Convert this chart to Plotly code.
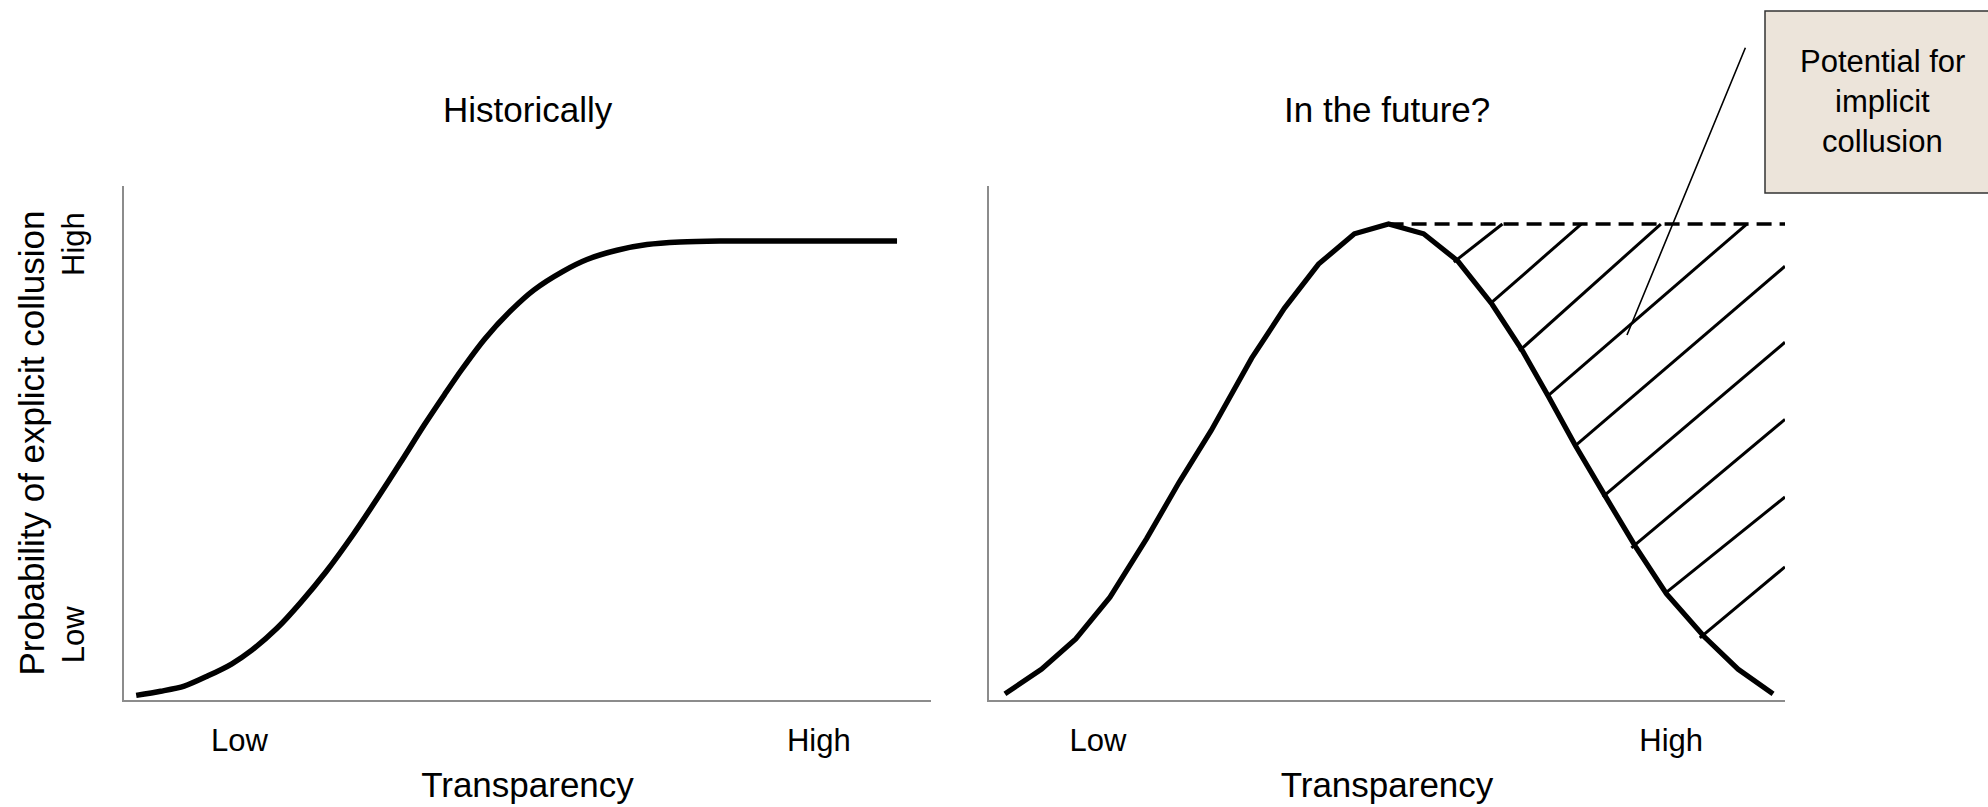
import plotly.graph_objects as go

FONT = "Liberation Sans, Arial, sans-serif"
W, H = 1988, 807

# Historically: probability of explicit collusion rises with transparency (S-curve)
hist_x = [0.151, 0.454, 0.746, 1.040, 1.332, 1.584, 1.898, 2.191, 2.506, 2.840,
          3.134, 3.426, 3.720, 3.971, 4.181, 4.473, 4.809, 5.082, 5.440, 5.737,
          6.109, 6.481, 6.890, 7.385, 8.216, 9.033, 9.579]
hist_y = [0.009, 0.017, 0.027, 0.047, 0.070, 0.097, 0.140, 0.190, 0.250, 0.322,
          0.391, 0.462, 0.535, 0.594, 0.642, 0.703, 0.760, 0.798, 0.834, 0.857,
          0.875, 0.886, 0.891, 0.893, 0.893, 0.893, 0.893]

# In the future: bell-shaped relationship
future_x = [0.20, 0.66, 1.09, 1.52, 1.98, 2.39, 2.79, 3.30, 3.71, 4.14, 4.59, 5.02,
            5.46, 5.89, 6.32, 6.70, 7.03, 7.37, 7.74, 8.12, 8.51, 8.98, 9.41, 9.85]
future_y = [0.012, 0.060, 0.119, 0.200, 0.314, 0.424, 0.524, 0.665, 0.762, 0.848,
            0.907, 0.926, 0.907, 0.854, 0.770, 0.680, 0.590, 0.494, 0.397, 0.299,
            0.207, 0.124, 0.060, 0.012]

# Hatching between the curve and the former ceiling
hatch_x0 = [5.84, 6.29, 6.66, 7.01, 7.36, 7.71, 8.07, 8.49, 8.93]
hatch_y0 = [0.852, 0.770, 0.679, 0.590, 0.494, 0.395, 0.296, 0.207, 0.121]
hatch_x1 = [6.45, 7.44, 8.44, 9.52, 10.0, 10.0, 10.0, 10.0, 10.0]
hatch_y1 = [0.926, 0.926, 0.926, 0.926, 0.844, 0.696, 0.546, 0.395, 0.259]

ceiling_end_x = 10.0

x_tick_vals_left = [1.43, 8.61]
x_tick_vals_right = [1.37, 8.57]
x_tick_text = ["Low", "High"]
y_tick_vals = [0.118, 0.878]
y_tick_text = ["Low", "High"]

panel_titles = ["Historically", "In the future?"]
callout_lines = ["Potential for", "implicit", "collusion"]

# leader line from the callout into the hatched area (data coords of right panel)
leader_tail = (9.51, 1.272)
leader_head = (8.015, 0.710)


def px_x(p):
    return p / W


def px_y(p):
    return 1 - p / H


fig = go.Figure()

fig.add_trace(go.Scatter(x=hist_x, y=hist_y, mode="lines",
                         line=dict(color="black", width=5.5, shape="spline", smoothing=0.8),
                         xaxis="x", yaxis="y", hoverinfo="skip"))

fig.add_trace(go.Scatter(x=future_x, y=future_y, mode="lines",
                         line=dict(color="black", width=5.2), xaxis="x2", yaxis="y2",
                         hoverinfo="skip"))

peak = max(future_y)
peak_x = future_x[future_y.index(peak)]
fig.add_trace(go.Scatter(x=[peak_x, ceiling_end_x], y=[peak, peak], mode="lines",
                         line=dict(color="black", width=3.5, dash="15px,8px"),
                         xaxis="x2", yaxis="y2", hoverinfo="skip"))

hx, hy = [], []
for a, b, c, d in zip(hatch_x0, hatch_y0, hatch_x1, hatch_y1):
    hx += [a, c, None]
    hy += [b, d, None]
fig.add_trace(go.Scatter(x=hx, y=hy, mode="lines", line=dict(color="black", width=3),
                         xaxis="x2", yaxis="y2", hoverinfo="skip"))

axis_common = dict(range=[0, 10], showline=True, linecolor="#8c8c8c", linewidth=2,
                   showgrid=False, zeroline=False, ticks="outside", ticklen=12,
                   tickcolor="rgba(0,0,0,0)", tickfont=dict(size=31, color="black"),
                   fixedrange=True)
y_common = dict(range=[0, 1], showline=True, linecolor="#8c8c8c", linewidth=2,
                showgrid=False, zeroline=False, fixedrange=True,
                domain=[px_y(700), px_y(186)])

fig.update_layout(
    width=W, height=H,
    margin=dict(l=0, r=0, t=0, b=0),
    paper_bgcolor="white", plot_bgcolor="white",
    showlegend=False,
    font=dict(family=FONT, color="black"),
    xaxis=dict(axis_common, domain=[px_x(124), px_x(931)], tickvals=x_tick_vals_left,
               ticktext=x_tick_text, anchor="y",
               title=dict(text="Transparency", font=dict(size=35), standoff=15)),
    xaxis2=dict(axis_common, domain=[px_x(989), px_x(1785)], tickvals=x_tick_vals_right,
                ticktext=x_tick_text, anchor="y2",
                title=dict(text="Transparency", font=dict(size=35), standoff=15)),
    yaxis=dict(y_common, anchor="x", tickvals=y_tick_vals, ticktext=y_tick_text,
               tickangle=-90, ticks="outside", ticklen=26, tickcolor="rgba(0,0,0,0)",
               tickfont=dict(size=31, color="black"),
               title=dict(text="Probability of explicit collusion", font=dict(size=35),
                          standoff=0)),
    yaxis2=dict(y_common, anchor="x2", showticklabels=False),
)

for title, cx in zip(panel_titles, [527.5, 1387]):
    fig.add_annotation(text=title, x=px_x(cx), y=px_y(109), xref="paper", yref="paper",
                       showarrow=False, font=dict(size=35), xanchor="center",
                       yanchor="middle")

# callout box
fig.add_shape(type="rect", xref="paper", yref="paper",
              x0=px_x(1765), x1=px_x(2010), y0=px_y(193), y1=px_y(11),
              fillcolor="#ECE4DA", line=dict(color="#333333", width=1.5))
for line_text, cy in zip(callout_lines, [62, 101, 141]):
    fig.add_annotation(text=line_text, x=px_x(1882), y=px_y(cy), xref="paper",
                       yref="paper", showarrow=False, font=dict(size=31),
                       xanchor="center", yanchor="middle")

fig.add_annotation(text="", x=leader_head[0], y=leader_head[1], xref="x2", yref="y2",
                   ax=leader_tail[0], ay=leader_tail[1], axref="x2", ayref="y2",
                   showarrow=True, arrowhead=0, arrowwidth=1.6, arrowcolor="black",
                   standoff=0, startstandoff=0)

fig.write_html("out.html")
